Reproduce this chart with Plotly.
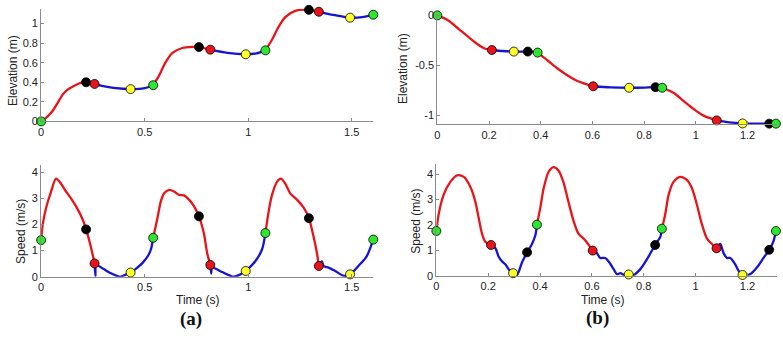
import plotly.graph_objects as go

# ---------------- data ----------------
# (a) gait events
a_event_t = [0, 0.217, 0.258, 0.432, 0.541, 0.762, 0.817, 0.988, 1.083, 1.293, 1.341, 1.492, 1.604]
a_event_kind = ["g", "k", "r", "y", "g", "k", "r", "y", "g", "k", "r", "y", "g"]
a_event_elev = [0, 0.40, 0.383, 0.33, 0.37, 0.76, 0.733, 0.686, 0.726, 1.14, 1.12, 1.06, 1.09]
a_event_speed = [1.40, 1.81, 0.51, 0.16, 1.49, 2.31, 0.45, 0.22, 1.67, 2.24, 0.41, 0.09, 1.42]

a_elev_t = [0, 0.03, 0.056, 0.08, 0.104, 0.128, 0.153, 0.180, 0.200, 0.217, 0.258, 0.30, 0.35, 0.432, 0.50, 0.541,
            0.57, 0.60, 0.634, 0.682, 0.73, 0.762, 0.817, 0.90, 0.988, 1.04, 1.083,
            1.115, 1.147, 1.179, 1.227, 1.293, 1.341, 1.42, 1.492, 1.55, 1.604]
a_elev_y = [0, 0.05, 0.109, 0.19, 0.274, 0.325, 0.356, 0.385, 0.398, 0.40, 0.383, 0.36, 0.342, 0.33, 0.34, 0.37,
            0.47, 0.60, 0.70, 0.75, 0.762, 0.76, 0.733, 0.70, 0.686, 0.695, 0.726,
            0.835, 0.967, 1.066, 1.13, 1.14, 1.12, 1.085, 1.06, 1.065, 1.09]

a_speed_t = [0, 0.008, 0.024, 0.048, 0.072, 0.096, 0.12, 0.144, 0.168, 0.20, 0.217, 0.236, 0.258,
             0.262, 0.266, 0.30, 0.34, 0.377, 0.40, 0.432, 0.46, 0.49, 0.52, 0.532, 0.541,
             0.562, 0.578, 0.594, 0.618, 0.642, 0.666, 0.69, 0.714, 0.738, 0.762, 0.786, 0.802, 0.817,
             0.821, 0.826, 0.874, 0.93, 0.96, 0.988, 1.035, 1.067, 1.083,
             1.099, 1.115, 1.139, 1.158, 1.179, 1.203, 1.235, 1.268, 1.293, 1.316, 1.332, 1.341,
             1.356, 1.364, 1.388, 1.42, 1.46, 1.492, 1.532, 1.572, 1.604]
a_speed_v = [1.40, 2.02, 2.64, 3.26, 3.75, 3.56, 3.26, 3.00, 2.70, 2.20, 1.81, 1.27, 0.51,
             0.03, 0.45, 0.30, 0.12, 0.0, 0.05, 0.16, 0.32, 0.53, 0.85, 1.10, 1.49,
             2.26, 2.88, 3.19, 3.32, 3.26, 3.13, 3.11, 2.95, 2.70, 2.31, 1.65, 0.90, 0.45,
             0.12, 0.35, 0.18, 0.0, 0.08, 0.22, 0.60, 1.05, 1.67,
             2.51, 3.13, 3.63, 3.75, 3.56, 3.19, 2.95, 2.64, 2.24, 1.52, 0.90, 0.41,
             0.59, 0.41, 0.35, 0.22, 0.04, 0.09, 0.41, 0.78, 1.42]

# (b) gait events
b_event_t = [0, 0.211, 0.296, 0.35, 0.388, 0.603, 0.742, 0.844, 0.87, 1.081, 1.181, 1.284, 1.31]
b_event_kind = ["g", "r", "y", "k", "g", "r", "y", "k", "g", "r", "y", "k", "g"]
b_event_elev = [0, -0.345, -0.361, -0.361, -0.371, -0.707, -0.722, -0.716, -0.722, -1.048, -1.078, -1.08, -1.08]
b_event_speed = [1.76, 1.21, 0.10, 0.92, 2.01, 0.99, 0.05, 1.21, 1.85, 1.08, 0.03, 1.02, 1.76]

b_elev_t = [0, 0.041, 0.08, 0.118, 0.157, 0.183, 0.211, 0.25, 0.296, 0.35, 0.388,
            0.427, 0.465, 0.504, 0.542, 0.581, 0.603, 0.67, 0.742, 0.80, 0.844, 0.87,
            0.915, 0.953, 0.992, 1.03, 1.081, 1.13, 1.181, 1.24, 1.284, 1.31]
b_elev_y = [0, -0.048, -0.129, -0.21, -0.29, -0.33, -0.345, -0.355, -0.361, -0.361, -0.371,
            -0.45, -0.53, -0.60, -0.655, -0.69, -0.707, -0.718, -0.722, -0.72, -0.716, -0.722,
            -0.774, -0.855, -0.935, -1.0, -1.048, -1.068, -1.078, -1.081, -1.08, -1.08]

b_speed_t = [0, 0.009, 0.028, 0.054, 0.08, 0.106, 0.131, 0.15, 0.163, 0.176, 0.189, 0.211,
             0.228, 0.24, 0.253, 0.266, 0.279, 0.296, 0.311, 0.33, 0.35, 0.369, 0.382, 0.388,
             0.401, 0.414, 0.433, 0.452, 0.471, 0.49, 0.509, 0.529, 0.548, 0.574, 0.603,
             0.619, 0.632, 0.651, 0.664, 0.684, 0.697, 0.71, 0.723, 0.742, 0.761, 0.787, 0.812, 0.844, 0.864, 0.87,
             0.883, 0.896, 0.915, 0.941, 0.967, 0.986, 1.005, 1.024, 1.044, 1.063, 1.081,
             1.095, 1.108, 1.121, 1.134, 1.153, 1.166, 1.181, 1.21, 1.236, 1.262, 1.284, 1.30, 1.31]
b_speed_v = [1.76, 2.42, 3.18, 3.69, 3.95, 3.89, 3.50, 2.93, 2.29, 1.66, 1.34, 1.21,
             1.08, 0.76, 0.57, 0.45, 0.26, 0.10, 0.03, 0.51, 0.92, 1.25, 1.59, 2.01,
             2.67, 3.44, 4.08, 4.27, 4.14, 3.69, 2.93, 2.17, 1.66, 1.40, 0.99,
             0.89, 0.70, 0.70, 0.57, 0.26, 0.06, 0.10, 0.03, 0.05, 0.03, 0.26, 0.64, 1.21, 1.53, 1.85,
             2.42, 3.18, 3.69, 3.89, 3.76, 3.44, 2.80, 2.04, 1.46, 1.25, 1.08,
             1.25, 0.89, 0.70, 0.70, 0.45, 0.19, 0.03, 0.06, 0.32, 0.70, 1.02, 1.34, 1.76]

# tick labels
a_x_ticks = [0, 0.5, 1, 1.5]
a_x_labels = ["0", "0.5", "1", "1.5"]
a_elev_ticks = [0, 0.2, 0.4, 0.6, 0.8, 1]
a_elev_labels = ["0", "0.2", "0.4", "0.6", "0.8", "1"]
b_x_ticks = [0, 0.2, 0.4, 0.6, 0.8, 1, 1.2]
b_x_labels = ["0", "0.2", "0.4", "0.6", "0.8", "1", "1.2"]
b_elev_ticks = [0, -0.5, -1]
b_elev_labels = ["0", "-0.5", "-1"]
speed_ticks = [0, 1, 2, 3, 4]
speed_labels = ["0", "1", "2", "3", "4"]

# ---------------- styling ----------------
W, H = 783, 339
RED = "#e8141a"
BLUE = "#1414d2"
MARKER_COLORS = {"g": "#2ee62e", "k": "#000000", "r": "#e8141a", "y": "#ffff2a"}
FONT = "Liberation Sans Narrow, Arial Narrow, Liberation Sans, Arial, sans-serif"
AXIS_COLOR = "#8a8a8a"


def split_phases(t, y, ev_t, ev_kind):
    """Split a curve into red (green->red event) and blue (red->green event) pieces."""
    bounds = [(et, "red" if k == "g" else "blue") for et, k in zip(ev_t, ev_kind) if k in ("g", "r")]
    segs = []
    for i in range(len(bounds) - 1):
        t0, col = bounds[i]
        t1 = bounds[i + 1][0]
        xs = [ti for ti in t if t0 - 1e-9 <= ti <= t1 + 1e-9]
        ys = [yi for ti, yi in zip(t, y) if t0 - 1e-9 <= ti <= t1 + 1e-9]
        segs.append((xs, ys, col))
    return segs


fig = go.Figure()

panels = [
    ("x", "y", a_elev_t, a_elev_y, a_event_t, a_event_kind, a_event_elev),
    ("x2", "y2", a_speed_t, a_speed_v, a_event_t, a_event_kind, a_event_speed),
    ("x3", "y3", b_elev_t, b_elev_y, b_event_t, b_event_kind, b_event_elev),
    ("x4", "y4", b_speed_t, b_speed_v, b_event_t, b_event_kind, b_event_speed),
]

for xa, ya, t, y, et, ek, ev in panels:
    for xs, ys, col in split_phases(t, y, et, ek):
        fig.add_trace(go.Scatter(
            x=xs, y=ys, mode="lines", xaxis=xa, yaxis=ya,
            line=dict(color=RED if col == "red" else BLUE, width=2.3, shape="spline", smoothing=0.8),
            showlegend=False, hoverinfo="skip", cliponaxis=False))
    fig.add_trace(go.Scatter(
        x=et, y=ev, mode="markers", xaxis=xa, yaxis=ya,
        marker=dict(size=9, color=[MARKER_COLORS[k] for k in ek],
                    line=dict(color="#000000", width=0.8)),
        showlegend=False, cliponaxis=False))

px_x = lambda p: p / W
px_y = lambda p: 1 - p / H

common_axis = dict(showgrid=False, zeroline=False, showline=True, linecolor=AXIS_COLOR, linewidth=1,
                   ticks="inside", ticklen=3, tickcolor=AXIS_COLOR, tickwidth=1,
                   tickfont=dict(family=FONT, size=11, color="#222222"), fixedrange=True)

fig.update_layout(
    width=W, height=H, margin=dict(l=0, r=0, t=0, b=0),
    paper_bgcolor="white", plot_bgcolor="white",
    font=dict(family=FONT, size=11, color="#222222"),
    xaxis=dict(common_axis, domain=[px_x(38.3), px_x(371.7)], range=[0, 1.604],
               tickvals=a_x_ticks, ticktext=a_x_labels, anchor="y"),
    yaxis=dict(common_axis, domain=[px_y(121), px_y(5)], range=[0, 1.15],
               tickvals=a_elev_ticks, ticktext=a_elev_labels, anchor="x"),
    xaxis2=dict(common_axis, domain=[px_x(38.3), px_x(371.7)], range=[0, 1.604],
                tickvals=a_x_ticks, ticktext=a_x_labels, anchor="y2"),
    yaxis2=dict(common_axis, domain=[px_y(281), px_y(166)], range=[0, 4.27],
                tickvals=speed_ticks, ticktext=speed_labels, anchor="x2"),
    xaxis3=dict(common_axis, domain=[px_x(436), px_x(776.7)], range=[0, 1.313],
                tickvals=b_x_ticks, ticktext=b_x_labels, anchor="y3"),
    yaxis3=dict(common_axis, domain=[px_y(124), px_y(10)], range=[-1.087, 0.017],
                tickvals=b_elev_ticks, ticktext=b_elev_labels, anchor="x3"),
    xaxis4=dict(common_axis, domain=[px_x(435), px_x(776.7)], range=[0, 1.313],
                tickvals=b_x_ticks, ticktext=b_x_labels, anchor="y4"),
    yaxis4=dict(common_axis, domain=[px_y(280), px_y(165)], range=[0, 4.39],
                tickvals=speed_ticks, ticktext=speed_labels, anchor="x4"),
)

title_font = dict(family=FONT, size=12, color="#222222")
labels = [
    ("Elevation (m)", 10, 68, -90, title_font),
    ("Speed (m/s)", 18, 234, -90, title_font),
    ("Elevation (m)", 401.5, 66, -90, title_font),
    ("Speed (m/s)", 415, 224, -90, title_font),
    ("Time (s)", 196, 305, 0, title_font),
    ("Time (s)", 602, 305, 0, title_font),
    ("<b>(a)</b>", 189, 325, 0, dict(family="Liberation Serif, Times New Roman, serif", size=19, color="#111111")),
    ("<b>(b)</b>", 597, 324, 0, dict(family="Liberation Serif, Times New Roman, serif", size=19, color="#111111")),
]
for text, x, y, ang, f in labels:
    fig.add_annotation(text=text, x=px_x(x), y=px_y(y), xref="paper", yref="paper",
                       xanchor="center", yanchor="middle", textangle=ang, showarrow=False, font=f)

fig.write_html("out.html", config={"displayModeBar": False},
               post_script="document.body.style.margin='0px';document.body.style.padding='0px';")
